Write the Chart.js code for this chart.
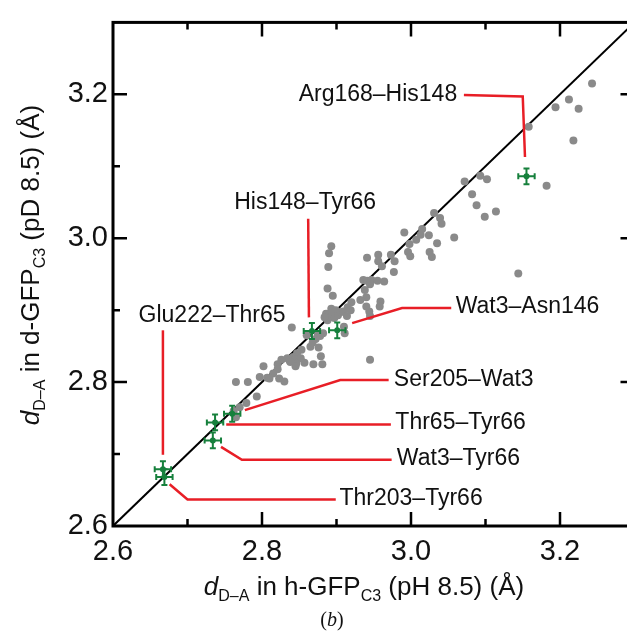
<!DOCTYPE html>
<html>
<head>
<meta charset="utf-8">
<script src="https://cdn.jsdelivr.net/npm/chart.js@4.4.1/dist/chart.umd.min.js"></script>
<style>
  html, body { margin: 0; padding: 0; background: #fff; overflow: hidden; }
  #wrap { width: 627px; height: 638px; overflow: hidden; position: relative; }
  canvas { position: absolute; left: 0; top: 0; }
</style>
</head>
<body>
<div id="wrap"><canvas id="c" width="650" height="638"></canvas></div>
<script>
// gray points: all donor-acceptor pairs, h-GFP (x) vs d-GFP (y), in Å
const hAll = [3.243, 3.212, 3.194, 3.225, 3.158, 3.218, 3.182, 3.072, 3.093, 3.102, 3.082, 3.088, 3.099, 3.114,
  3.031, 3.039, 3.041, 3.058, 3.144, 2.991, 3.015, 3.013, 3.024, 3.007, 2.998, 2.996, 2.999, 3.035, 3.025, 3.028,
  2.973, 2.978, 2.956, 2.956, 2.941, 2.961, 2.977, 2.936, 2.941, 2.947, 2.955, 2.964, 2.945, 2.940, 2.938, 2.959,
  2.920, 2.915, 2.932, 2.944, 2.945, 2.893, 2.890, 2.889, 2.888, 2.895, 2.893, 2.886, 2.890, 2.894, 2.897, 2.899,
  2.888, 2.902, 2.884, 2.905, 2.909, 2.919, 2.914, 2.910, 2.840, 2.860, 2.872, 2.882, 2.875, 2.865, 2.881, 2.869,
  2.857, 2.879, 2.853, 2.847, 2.842, 2.837, 2.834, 2.845, 2.852, 2.846, 2.838, 2.826, 2.821, 2.845, 2.821, 2.815,
  2.807, 2.802, 2.797, 2.810, 2.823, 2.830, 2.765, 2.781, 2.793, 2.779, 2.770, 2.765, 2.762, 2.876, 2.868,
  2.940, 2.958, 2.945, 2.911, 2.878];
const dAll = [3.215, 3.193, 3.182, 3.180, 3.155, 3.136, 3.073, 3.079, 3.087, 3.082, 3.061, 3.046, 3.030, 3.037,
  3.035, 3.028, 3.020, 3.001, 2.951, 3.008, 3.013, 3.005, 3.004, 2.998, 2.992, 2.981, 2.975, 2.993, 2.981, 2.974,
  2.977, 2.968, 2.977, 2.968, 2.973, 2.961, 2.953, 2.942, 2.941, 2.942, 2.941, 2.940, 2.936, 2.918, 2.928, 2.912,
  2.911, 2.904, 2.914, 2.898, 2.831, 2.989, 2.979, 2.960, 2.930, 2.920, 2.902, 2.895, 2.892, 2.897, 2.889, 2.900,
  2.886, 2.893, 2.890, 2.897, 2.898, 2.900, 2.892, 2.877, 2.876, 2.865, 2.860, 2.868, 2.866, 2.849, 2.825, 2.825,
  2.827, 2.836, 2.845, 2.840, 2.835, 2.830, 2.833, 2.832, 2.833, 2.826, 2.828, 2.831, 2.825, 2.822, 2.818, 2.812,
  2.806, 2.822, 2.807, 2.805, 2.805, 2.801, 2.800, 2.800, 2.780, 2.771, 2.765, 2.751, 2.760, 2.848, 2.855,
  2.905, 2.905, 2.892, 2.868, 2.864];

// green points: highlighted hydrogen bonds with error bars
const pairNames = ["Arg168–His148", "His148–Tyr66", "Wat3–Asn146", "Ser205–Wat3",
  "Thr65–Tyr66", "Wat3–Tyr66", "Glu222–Thr65", "Thr203–Tyr66"];
const hPair = [3.155, 2.867, 2.901, 2.760, 2.737, 2.734, 2.667, 2.669];
const dPair = [3.086, 2.871, 2.872, 2.756, 2.744, 2.719, 2.679, 2.668];
const hErr = [0.011, 0.011, 0.011, 0.011, 0.011, 0.011, 0.011, 0.011];
const dErr = [0.011, 0.011, 0.011, 0.011, 0.011, 0.011, 0.011, 0.011];

const xTicks = [2.6, 2.8, 3.0, 3.2];
const yTicks = [2.6, 2.8, 3.0, 3.2];
const minorStep = 0.1;
const axisMin = 2.6, axisMax = 3.3;

// label anchors and leader paths, in data units
const leaders = [
  { name: "Arg168–His148", path: [[3.071, 3.199], [3.150, 3.197], [3.153, 3.113]], at: [3.062, 3.199], align: "right" },
  { name: "His148–Tyr66", path: [[2.862, 3.027], [2.863, 2.890]], at: [2.858, 3.049], align: "center" },
  { name: "Wat3–Asn146", path: [[2.921, 2.882], [2.988, 2.903], [3.054, 2.903]], at: [3.060, 2.905], align: "left" },
  { name: "Glu222–Thr65", path: [[2.667, 2.872], [2.667, 2.699]], at: [2.733, 2.892], align: "center" },
  { name: "Ser205–Wat3", path: [[2.777, 2.761], [2.905, 2.803], [2.970, 2.803]], at: [2.977, 2.804], align: "left" },
  { name: "Thr65–Tyr66", path: [[2.752, 2.741], [2.973, 2.741]], at: [2.979, 2.743], align: "left" },
  { name: "Wat3–Tyr66", path: [[2.745, 2.710], [2.773, 2.692], [2.974, 2.692]], at: [2.981, 2.694], align: "left" },
  { name: "Thr203–Tyr66", path: [[2.676, 2.658], [2.700, 2.637], [2.899, 2.637]], at: [2.904, 2.638], align: "left" }
];

const SANS = "'Liberation Sans', Arial, Helvetica, sans-serif";
const GREEN = "rgb(22,128,60)";
const RED = "rgb(232,30,38)";

function drawRich(ctx, parts, x, y) {
  let w = 0;
  parts.forEach(p => { ctx.font = p.font; w += ctx.measureText(p.t).width; });
  let cx = x - w / 2;
  ctx.textBaseline = "alphabetic";
  ctx.textAlign = "left";
  parts.forEach(p => {
    ctx.font = p.font;
    ctx.fillText(p.t, cx, y + (p.dy || 0));
    cx += ctx.measureText(p.t).width;
  });
}

const decor = {
  id: "decor",
  afterDatasetsDraw(chart) {
    const { ctx, scales: { x, y } } = chart;
    ctx.save();
    // error bars on green points
    ctx.strokeStyle = GREEN;
    ctx.lineWidth = 2;
    hPair.forEach((hv, i) => {
      const px = x.getPixelForValue(hv), py = y.getPixelForValue(dPair[i]);
      const x0 = x.getPixelForValue(hv - hErr[i]), x1 = x.getPixelForValue(hv + hErr[i]);
      const y0 = y.getPixelForValue(dPair[i] - dErr[i]), y1 = y.getPixelForValue(dPair[i] + dErr[i]);
      ctx.beginPath();
      ctx.moveTo(x0, py); ctx.lineTo(x1, py);
      ctx.moveTo(px, y0); ctx.lineTo(px, y1);
      ctx.moveTo(x0, py - 3); ctx.lineTo(x0, py + 3);
      ctx.moveTo(x1, py - 3); ctx.lineTo(x1, py + 3);
      ctx.moveTo(px - 3, y0); ctx.lineTo(px + 3, y0);
      ctx.moveTo(px - 3, y1); ctx.lineTo(px + 3, y1);
      ctx.stroke();
    });
    // red leaders and labels
    ctx.strokeStyle = RED;
    ctx.lineWidth = 2.5;
    ctx.fillStyle = "#111";
    ctx.font = "23px " + SANS;
    ctx.textBaseline = "middle";
    leaders.forEach(l => {
      ctx.beginPath();
      l.path.forEach((p, j) => {
        const px = x.getPixelForValue(p[0]), py = y.getPixelForValue(p[1]);
        if (j === 0) ctx.moveTo(px, py); else ctx.lineTo(px, py);
      });
      ctx.stroke();
      ctx.textAlign = l.align;
      ctx.fillText(l.name, x.getPixelForValue(l.at[0]), y.getPixelForValue(l.at[1]));
    });
    ctx.restore();
  },
  afterDraw(chart) {
    const { ctx, chartArea: a, scales: { x, y } } = chart;
    ctx.save();
    // frame with inward ticks on all sides
    ctx.strokeStyle = "#000";
    ctx.lineWidth = 3;
    ctx.strokeRect(a.left, a.top, a.right - a.left, a.bottom - a.top);
    ctx.lineWidth = 2.5;
    ctx.beginPath();
    for (let k = 1; k < 7; k++) {
      const v = axisMin + k * minorStep;
      const len = k % 2 === 0 ? 14 : 7;
      const px = x.getPixelForValue(v), py = y.getPixelForValue(v);
      ctx.moveTo(px, a.bottom); ctx.lineTo(px, a.bottom - len);
      ctx.moveTo(px, a.top); ctx.lineTo(px, a.top + len);
      ctx.moveTo(a.left, py); ctx.lineTo(a.left + len, py);
      ctx.moveTo(a.right, py); ctx.lineTo(a.right - len, py);
    }
    ctx.stroke();
    // axis titles with subscripts
    ctx.fillStyle = "#111";
    const big = "26px " + SANS, sub = "16px " + SANS, ital = "italic 26px " + SANS;
    drawRich(ctx, [
      { t: "d", font: ital }, { t: "D–A", font: sub, dy: 6 },
      { t: " in h-GFP", font: big }, { t: "C3", font: sub, dy: 6 },
      { t: " (pH 8.5) (Å)", font: big }
    ], 364, 595);
    ctx.save();
    ctx.translate(39, 265);
    ctx.rotate(-Math.PI / 2);
    drawRich(ctx, [
      { t: "d", font: ital }, { t: "D–A", font: sub, dy: 6 },
      { t: " in d-GFP", font: big }, { t: "C3", font: sub, dy: 6 },
      { t: " (pD 8.5) (Å)", font: big }
    ], 0, 0);
    ctx.restore();
    drawRich(ctx, [
      { t: "(", font: "20px 'Liberation Serif', 'Times New Roman', serif" },
      { t: "b", font: "italic 20px 'Liberation Serif', 'Times New Roman', serif" },
      { t: ")", font: "20px 'Liberation Serif', 'Times New Roman', serif" }
    ], 332, 626);
    ctx.restore();
  }
};

const tickFont = { family: SANS, size: 29 };

new Chart(document.getElementById("c"), {
  type: "scatter",
  data: {
    datasets: [
      {
        label: "highlighted",
        data: hPair.map((v, i) => ({ x: v, y: dPair[i] })),
        pointRadius: 3,
        pointBackgroundColor: GREEN,
        pointBorderWidth: 0,
        order: 0
      },
      {
        label: "all",
        data: hAll.map((v, i) => ({ x: v, y: dAll[i] })),
        pointRadius: 4,
        pointBackgroundColor: "rgb(138,138,138)",
        pointBorderWidth: 0,
        order: 1
      },
      {
        label: "y = x",
        type: "line",
        data: [{ x: axisMin, y: axisMin }, { x: axisMax, y: axisMax }],
        borderColor: "#000",
        borderWidth: 2,
        pointRadius: 0,
        order: 2
      }
    ]
  },
  options: {
    responsive: false,
    animation: false,
    devicePixelRatio: 1,
    layout: { padding: { top: 16, right: 15.5, left: 0, bottom: 0 } },
    plugins: { legend: { display: false }, tooltip: { enabled: false } },
    scales: {
      x: {
        type: "linear",
        min: axisMin, max: axisMax,
        afterBuildTicks: s => { s.ticks = xTicks.map(v => ({ value: v })); },
        afterFit: s => { s.height = 112; },
        grid: { display: false, drawTicks: false },
        border: { display: false },
        ticks: { font: tickFont, color: "#111", padding: 9, callback: v => v.toFixed(1), maxRotation: 0 }
      },
      y: {
        type: "linear",
        min: axisMin, max: axisMax,
        afterBuildTicks: s => { s.ticks = yTicks.map(v => ({ value: v })); },
        afterFit: s => { s.width = 113; },
        grid: { display: false, drawTicks: false },
        border: { display: false },
        ticks: { font: tickFont, color: "#111", padding: 5, callback: v => v.toFixed(1) }
      }
    }
  },
  plugins: [decor]
});
</script>
</body>
</html>
